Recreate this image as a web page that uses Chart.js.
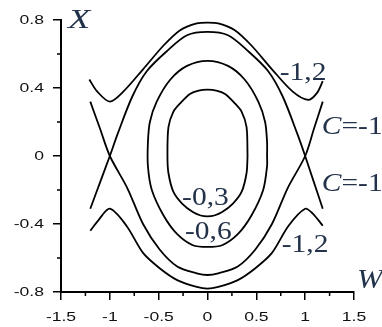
<!DOCTYPE html>
<html>
<head>
<meta charset="utf-8">
<script src="https://cdn.jsdelivr.net/npm/chart.js@4.4.1/dist/chart.umd.min.js"></script>
<style>
    html, body { margin: 0; padding: 0; background: #fff; }
    #wrap { width: 382px; height: 327px; }
</style>
</head>
<body>
<div id="wrap"><canvas id="phaseChart"></canvas></div>
<script>
// Phase curves X(W) for the levels C = -0,3 / -0,6 / -1 / -1,2
const c03W = [0.41, 0.40, 0.35, 0.28, 0.18, 0.09, 0, -0.09, -0.18, -0.28, -0.35, -0.40, -0.41, -0.40, -0.35, -0.26, -0.15, -0.07, 0, 0.07, 0.15, 0.26, 0.35, 0.40, 0.41];
const c03X = [0, 0.17, 0.26, 0.31, 0.365, 0.385, 0.39, 0.385, 0.365, 0.31, 0.26, 0.17, 0, -0.10, -0.21, -0.28, -0.33, -0.35, -0.355, -0.35, -0.33, -0.28, -0.21, -0.10, 0];

const c06W = [0.61, 0.61, 0.59, 0.52, 0.38, 0.21, 0, -0.21, -0.38, -0.52, -0.59, -0.61, -0.61, -0.57, -0.45, -0.31, -0.15, 0, 0.15, 0.31, 0.45, 0.57, 0.61, 0.61];
const c06X = [0, 0.08, 0.20, 0.32, 0.45, 0.53, 0.56, 0.53, 0.45, 0.32, 0.20, 0.08, -0.06, -0.20, -0.35, -0.46, -0.525, -0.535, -0.525, -0.46, -0.35, -0.20, -0.06, 0];

const sepUpW = [-1.20, -1.10, -1.00, -0.92, -0.77, -0.62, -0.41, -0.21, 0, 0.21, 0.41, 0.62, 0.77, 0.92, 1.00, 1.09, 1.18];
const sepUpX = [-0.31, -0.155, 0, 0.13, 0.35, 0.50, 0.62, 0.71, 0.73, 0.71, 0.62, 0.50, 0.35, 0.13, 0, -0.155, -0.31];

const sepLoW = [-1.20, -1.10, -1.00, -0.82, -0.66, -0.49, -0.31, -0.11, 0, 0.11, 0.31, 0.49, 0.66, 0.82, 1.00, 1.09, 1.18];
const sepLoX = [0.32, 0.16, 0, -0.19, -0.40, -0.55, -0.65, -0.69, -0.70, -0.69, -0.65, -0.55, -0.40, -0.19, 0, 0.16, 0.32];

const c12TopW = [-1.21, -1.13, -1.00, -0.86, -0.66, -0.45, -0.28, -0.11, 0, 0.11, 0.28, 0.45, 0.66, 0.87, 1.03, 1.12, 1.18];
const c12TopX = [0.45, 0.38, 0.32, 0.38, 0.51, 0.65, 0.74, 0.78, 0.785, 0.78, 0.74, 0.65, 0.51, 0.38, 0.33, 0.37, 0.44];

const c12BotW = [-1.20, -1.12, -1.00, -0.83, -0.66, -0.49, -0.31, -0.11, 0, 0.11, 0.31, 0.49, 0.66, 0.83, 1.00, 1.08, 1.18];
const c12BotX = [-0.44, -0.38, -0.31, -0.41, -0.57, -0.66, -0.73, -0.77, -0.78, -0.77, -0.73, -0.66, -0.57, -0.41, -0.31, -0.34, -0.41];

// axis ticks
const xTicks = [-1.5, -1, -0.5, 0, 0.5, 1, 1.5];
const xTickLabels = ['-1.5', '-1', '-0.5', '0', '0.5', '1', '1.5'];
const xMinor = [-1.25, -0.75, -0.25, 0.25, 0.75, 1.25];
const yTicks = [0.8, 0.4, 0, -0.4, -0.8];
const yTickLabels = ['0.8', '0.4', '0', '-0.4', '-0.8'];
const yMinor = [0.6, 0.2, -0.2, -0.6];

function toPoints(ws, xs) {
    return ws.map((w, i) => ({ x: w, y: xs[i] }));
}

function curve(ws, xs) {
    return {
        data: toPoints(ws, xs),
        showLine: true,
        borderColor: '#000',
        borderWidth: 1.8,
        pointRadius: 0,
        tension: 0.3,
        fill: false
    };
}

const inkColor = '#22324a';

// curve level labels, anchored in data units (left edge, baseline)
const levelLabels = [
    { text: '-1,2', w: 0.74, x: 0.45 },
    { text: '=-1', italic: 'C', w: 1.17, x: 0.13 },
    { text: '=-1', italic: 'C', w: 1.17, x: -0.205 },
    { text: '-0,3', w: -0.26, x: -0.29 },
    { text: '-0,6', w: -0.23, x: -0.49 },
    { text: '-1,2', w: 0.76, x: -0.565 }
];

function stretchedText(ctx, text, x, y, sx, align) {
    ctx.save();
    ctx.translate(x, y);
    ctx.scale(sx, 1);
    ctx.textAlign = align;
    ctx.fillText(text, 0, 0);
    ctx.restore();
}

const axisDecor = {
    id: 'axisDecor',
    afterDraw(chart) {
        const ctx = chart.ctx;
        const xs = chart.scales.x;
        const ys = chart.scales.y;
        const area = chart.chartArea;

        // minor ticks
        ctx.save();
        ctx.strokeStyle = '#000';
        ctx.lineWidth = 1.5;
        ctx.beginPath();
        xMinor.forEach(v => {
            const px = xs.getPixelForValue(v);
            ctx.moveTo(px, area.bottom);
            ctx.lineTo(px, area.bottom + 4);
        });
        yMinor.forEach(v => {
            const py = ys.getPixelForValue(v);
            ctx.moveTo(area.left, py);
            ctx.lineTo(area.left - 4, py);
        });
        ctx.stroke();
        ctx.restore();

        // tick labels
        ctx.save();
        ctx.fillStyle = '#111';
        ctx.font = '13px "Liberation Sans", Arial, sans-serif';
        ctx.textBaseline = 'middle';
        xTicks.forEach((v, i) => {
            stretchedText(ctx, xTickLabels[i], xs.getPixelForValue(v), area.bottom + 25, 1.35, 'center');
        });
        yTicks.forEach((v, i) => {
            stretchedText(ctx, yTickLabels[i], area.left - 17, ys.getPixelForValue(v), 1.35, 'right');
        });
        ctx.restore();

        // axis titles
        ctx.save();
        ctx.fillStyle = inkColor;
        ctx.textBaseline = 'alphabetic';
        ctx.font = 'italic 28px "Liberation Serif", "Times New Roman", serif';
        stretchedText(ctx, 'X', area.left + 7, area.top + 8, 1.3, 'left');
        stretchedText(ctx, 'W', area.right + 3, area.bottom - 4, 1.1, 'left');
        ctx.restore();

        // level labels
        ctx.save();
        ctx.fillStyle = inkColor;
        ctx.textBaseline = 'alphabetic';
        levelLabels.forEach(lab => {
            let px = xs.getPixelForValue(lab.w);
            const py = ys.getPixelForValue(lab.x);
            if (lab.italic) {
                ctx.font = 'italic 25px "Liberation Serif", "Times New Roman", serif';
                stretchedText(ctx, lab.italic, px, py, 1.18, 'left');
                px += ctx.measureText(lab.italic).width * 1.18;
            }
            ctx.font = '25px "Liberation Serif", "Times New Roman", serif';
            stretchedText(ctx, lab.text, px, py, 1.18, 'left');
        });
        ctx.restore();
    }
};

const ctx = document.getElementById('phaseChart');
const phaseChart = new Chart(ctx, {
    type: 'scatter',
    data: {
        datasets: [
            curve(c03W, c03X),
            curve(c06W, c06X),
            curve(sepUpW, sepUpX),
            curve(sepLoW, sepLoX),
            curve(c12TopW, c12TopX),
            curve(c12BotW, c12BotX)
        ]
    },
    options: {
        responsive: true,
        maintainAspectRatio: false,
        animation: false,
        layout: {
            padding: { top: 20, right: 28, left: 0, bottom: 0 }
        },
        plugins: {
            legend: { display: false },
            tooltip: { enabled: false }
        },
        scales: {
            x: {
                type: 'linear',
                min: -1.5,
                max: 1.5,
                ticks: { stepSize: 0.5, display: false },
                grid: { drawOnChartArea: false, drawTicks: true, tickLength: 8, color: '#000', lineWidth: 1.5 },
                border: { display: true, color: '#000', width: 2 },
                afterFit: function (scale) { scale.height = 35; }
            },
            y: {
                type: 'linear',
                min: -0.8,
                max: 0.8,
                ticks: { stepSize: 0.4, display: false },
                grid: { drawOnChartArea: false, drawTicks: true, tickLength: 8, color: '#000', lineWidth: 1.5 },
                border: { display: true, color: '#000', width: 2 },
                afterFit: function (scale) { scale.width = 61; }
            }
        }
    },
    plugins: [axisDecor]
});
</script>
</body>
</html>
